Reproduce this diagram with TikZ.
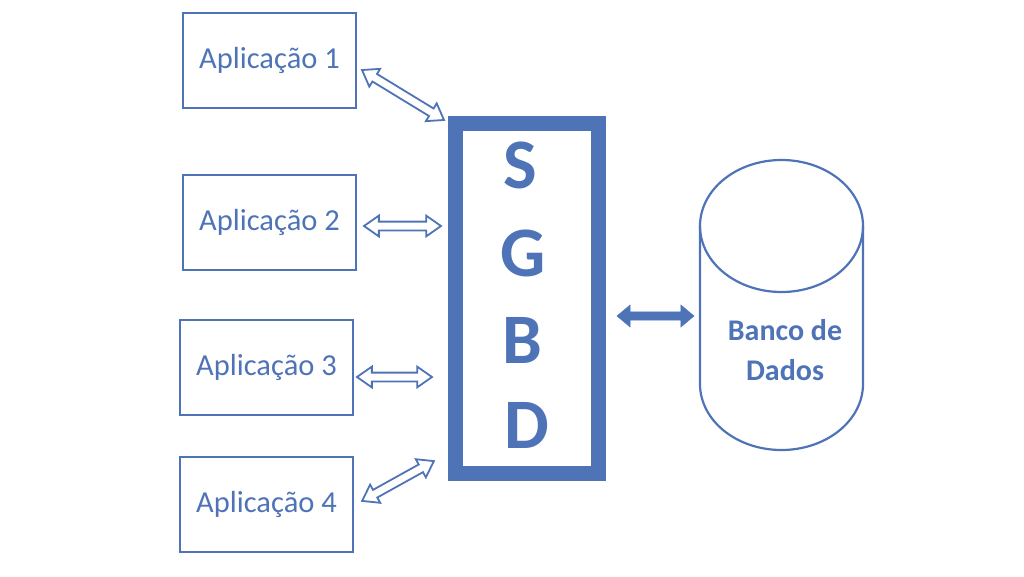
\documentclass[tikz,border=0pt]{standalone}
\usepackage{fontspec}
\setmainfont{Carlito}
\usetikzlibrary{shapes.arrows,shapes.geometric}
\definecolor{sblue}{RGB}{79,115,183}
\begin{document}
\begin{tikzpicture}[x=1pt,y=-1pt,
 appbox/.style={draw=sblue, line width=2pt, minimum width=173pt, minimum height=95pt, inner sep=0pt, text=sblue, font=\fontsize{30.5}{36}\selectfont},
 hollowarrow/.style={shape=double arrow, draw=sblue, line width=1.8pt, fill=white, inner xsep=0pt, inner ysep=3.5pt, double arrow head extend=6pt, double arrow tip angle=70, sloped},
 solidarrow/.style={shape=double arrow, draw=sblue, fill=sblue, line width=0.5pt, inner xsep=0pt, inner ysep=3.8pt, double arrow head extend=7pt, double arrow tip angle=80, sloped},
 letter/.style={text=sblue, font=\fontsize{71}{80}\selectfont\bfseries, inner sep=0pt},
 dbtext/.style={text=sblue, font=\fontsize{30}{40}\selectfont\bfseries, align=center, inner sep=0pt}]
\useasboundingbox (0,0) rectangle (1024,576);
\node[appbox] (app1) at (269.5,60.5) {Aplicação 1};
\node[appbox] (app2) at (269.5,222.5) {Aplicação 2};
\node[appbox] (app3) at (266.5,367) {Aplicação 3};
\node[appbox] (app4) at (266.5,504.5) {Aplicação 4};
\node[draw=sblue, line width=15pt, minimum width=143pt, minimum height=350pt, inner sep=0pt] (sgbd) at (527,298.5) {};
\node[letter] (s) at (520,165) {S};
\node[letter] (g) at (523,253) {G};
\node[letter] (b) at (522,340) {B};
\node[letter] (d) at (527,425) {D};
% cylinder
\draw[sblue, line width=2.2pt] (700,226) -- (700,384) arc[start angle=180, end angle=0, x radius=81.5, y radius=66] -- (863,226);
\draw[sblue, line width=2.2pt] (781.5,226) ellipse [x radius=81.5, y radius=66];
\node[dbtext] (db) at (785,350) {Banco de\\Dados};
% arrow endpoints
\coordinate (a1) at (362,70); \coordinate (b1) at (444,120);
\coordinate (a2) at (364,226); \coordinate (b2) at (441,226);
\coordinate (a3) at (357,377); \coordinate (b3) at (432,377);
\coordinate (a4) at (362,501); \coordinate (b4) at (434,461);
\coordinate (a5) at (617,316); \coordinate (b5) at (694,316);
\path (a1) -- node[hollowarrow, minimum height=96pt] (ar1) {} (b1);
\path (a2) -- node[hollowarrow, minimum height=77pt] (ar2) {} (b2);
\path (a3) -- node[hollowarrow, minimum height=75pt] (ar3) {} (b3);
\path (a4) -- node[hollowarrow, minimum height=82pt] (ar4) {} (b4);
\path (a5) -- node[solidarrow, minimum height=77pt] (ar5) {} (b5);
\end{tikzpicture}
\end{document}
